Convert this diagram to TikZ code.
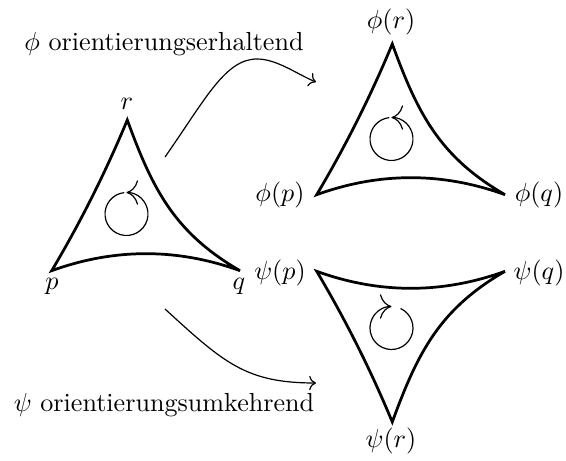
\documentclass[tikz,border=0pt]{standalone}
\usetikzlibrary{arrows.meta}
\begin{document}
\begin{tikzpicture}[x=0.383pt,y=-0.383pt,
  edge/.style={line width=1.05pt},
  thinline/.style={line width=0.46pt},
  rot/.style={line width=0.46pt,-{To[scale=1.7]}},
  tri/.pic={
    \coordinate (-p) at (51.7,270.7);
    \coordinate (-q) at (240,270.7);
    \coordinate (-r) at (127.3,120);
    \draw[edge] (-p) .. controls (80.5,222.3) and (105.7,172) .. (-r)
      .. controls (153,190.5) and (175,233) .. (-q)
      .. controls (177.3,248) and (114.5,248) .. cycle;
  },
  trid/.pic={
    \coordinate (-p) at (51.7,271.3);
    \coordinate (-q) at (240,271.3);
    \coordinate (-r) at (127.3,422);
    \draw[edge] (-p) .. controls (80.5,319.7) and (105.7,370) .. (-r)
      .. controls (153,351.5) and (175,309) .. (-q)
      .. controls (177.3,294) and (114.5,294) .. cycle;
  }]
\useasboundingbox (0,0) rectangle (566,461);
% triangles
\pic (L) {tri};
\begin{scope}[shift={(265,-76)}]
  \pic (U) {tri};
\end{scope}
\begin{scope}[shift={(265,0)}]
  \pic (D) {trid};
\end{scope}
% orientation circles
\coordinate (cL) at (126.5,214);
\coordinate (cU) at (391.5,139);
\coordinate (cD) at (391.5,328);
\draw[rot] ([shift={(-96:21.5)}]cL) arc[start angle=-96,end angle=-450,radius=21.5];
\draw[rot] ([shift={(-96:21.5)}]cU) arc[start angle=-96,end angle=-450,radius=21.5];
\draw[rot] ([shift={(-65:21.5)}]cD) arc[start angle=-65,end angle=270,radius=21.5];
% vertex labels
\node (lr) at (127,104) {$r$};
\node (lp) at (52,286) {$p$};
\node (lq) at (239,286) {$q$};
\node (lUr) at (391,22) {$\phi(r)$};
\node (lUp) at (280,195) {$\phi(p)$};
\node (lUq) at (539,195) {$\phi(q)$};
\node (lDp) at (280,273) {$\psi(p)$};
\node (lDq) at (539,273) {$\psi(q)$};
\node (lDr) at (391,441) {$\psi(r)$};
% maps
\node (t1) at (164,44) {$\phi$ orientierungserhaltend};
\node (t2) at (164,405) {$\psi$ orientierungsumkehrend};
\coordinate (a1s) at (165,157);
\coordinate (a1m) at (257,59);
\coordinate (a1e) at (316,82);
\coordinate (a2s) at (165,309);
\coordinate (a2e) at (316,383);
\draw[thinline,->] (a1s) .. controls (205,100) and (225,59) .. (a1m)
  .. controls (277,59) and (297.5,74.5) .. (a1e);
\draw[thinline,->] (a2s) .. controls (224,363) and (246,383) .. (a2e);
\end{tikzpicture}
\end{document}
